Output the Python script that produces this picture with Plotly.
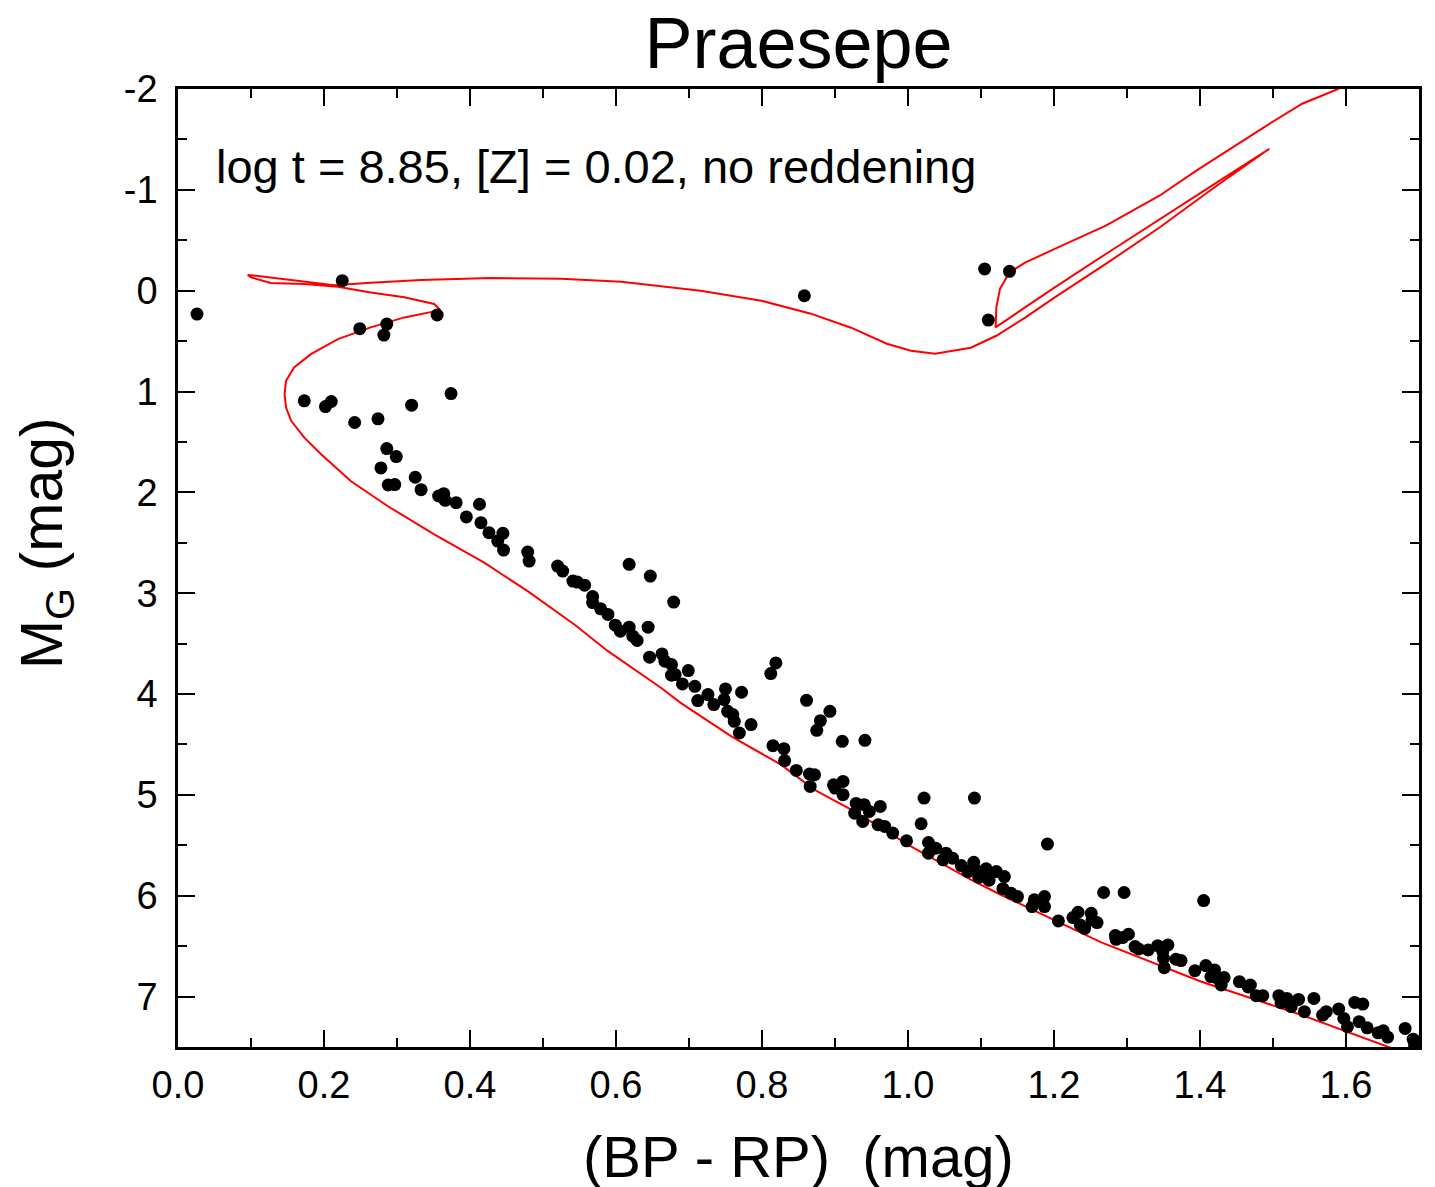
import plotly.graph_objects as go

# ---- Cluster members (Gaia colour / absolute magnitude) ----
bp_rp = [
    0.026, 0.225, 0.355, 0.249, 0.286, 0.282, 0.858, 1.105, 1.139, 1.110,
    0.173, 0.202, 0.210, 0.242, 0.274, 0.320, 0.374, 0.286, 0.299, 0.278,
    0.288, 0.297, 0.325, 0.333, 0.357, 0.364, 0.366, 0.381, 0.413, 0.395,
    0.415, 0.426, 0.445, 0.438, 0.446, 0.479, 0.481, 0.520, 0.527, 0.541,
    0.547, 0.557, 0.568, 0.568, 0.579, 0.589, 0.599, 0.606, 0.618, 0.623,
    0.629, 0.644, 0.618, 0.647, 0.679, 0.646, 0.663, 0.667, 0.676, 0.676,
    0.681, 0.699, 0.691, 0.708, 0.712, 0.726, 0.734, 0.750, 0.748, 0.753,
    0.760, 0.772, 0.762, 0.769, 0.785, 0.819, 0.812, 0.861, 0.815, 0.830,
    0.893, 0.880, 0.875, 0.910, 0.941, 0.831, 0.847, 0.865, 0.872, 0.866,
    0.898, 0.911, 0.911, 0.900, 0.929, 0.940, 0.947, 0.927, 0.938, 0.962,
    0.959, 0.968, 0.979, 0.998, 1.022, 1.018, 1.091, 1.028, 1.028, 1.038,
    1.052, 1.048, 1.061, 1.073, 1.090, 1.082, 1.096, 1.107, 1.121, 1.132,
    1.097, 1.111, 1.130, 1.141, 1.150, 1.173, 1.187, 1.191, 1.268, 1.296,
    1.405, 1.187, 1.170, 1.206, 1.226, 1.233, 1.236, 1.242, 1.251, 1.252,
    1.259, 1.284, 1.285, 1.302, 1.294, 1.311, 1.316, 1.329, 1.342, 1.356,
    1.349, 1.350, 1.351, 1.367, 1.374, 1.393, 1.408, 1.420, 1.415, 1.424,
    1.433, 1.429, 1.454, 1.466, 1.469, 1.477, 1.486, 1.508, 1.511, 1.519,
    1.525, 1.535, 1.543, 1.556, 1.568, 1.573, 1.590, 1.597, 1.602, 1.612,
    1.623, 1.618, 1.629, 1.644, 1.651, 1.657, 1.681, 1.692, 1.694,
]
m_g = [
    0.232, -0.099, 0.241, 0.377, 0.331, 0.440, 0.050, -0.215, -0.192, 0.291,
    1.092, 1.149, 1.099, 1.307, 1.271, 1.135, 1.020, 1.566, 1.645, 1.758,
    1.927, 1.923, 1.850, 1.973, 2.036, 2.013, 2.079, 2.102, 2.118, 2.244,
    2.301, 2.400, 2.406, 2.483, 2.572, 2.592, 2.681, 2.731, 2.780, 2.880,
    2.890, 2.920, 3.033, 3.093, 3.155, 3.210, 3.317, 3.376, 3.337, 3.426,
    3.469, 3.337, 2.714, 2.830, 3.088, 3.634, 3.602, 3.674, 3.707, 3.813,
    3.807, 3.767, 3.900, 3.923, 4.065, 4.005, 4.104, 3.949, 4.055, 4.171,
    4.204, 3.982, 4.270, 4.386, 4.303, 3.691, 3.797, 4.062, 4.512, 4.542,
    4.171, 4.264, 4.360, 4.469, 4.459, 4.660, 4.757, 4.793, 4.800, 4.916,
    4.900, 4.866, 4.998, 4.932, 5.085, 5.097, 5.164, 5.181, 5.263, 5.114,
    5.296, 5.313, 5.379, 5.455, 5.032, 5.286, 5.032, 5.472, 5.578, 5.528,
    5.578, 5.644, 5.628, 5.701, 5.668, 5.760, 5.760, 5.733, 5.760, 5.810,
    5.817, 5.846, 5.930, 5.975, 6.008, 6.041, 6.008, 5.488, 5.968, 5.968,
    6.048, 6.107, 6.107, 6.250, 6.217, 6.164, 6.290, 6.323, 6.174, 6.240,
    6.266, 6.395, 6.432, 6.382, 6.415, 6.504, 6.528, 6.538, 6.495, 6.488,
    6.554, 6.620, 6.713, 6.630, 6.643, 6.743, 6.693, 6.736, 6.802, 6.819,
    6.812, 6.885, 6.852, 6.904, 6.885, 6.991, 6.991, 6.991, 7.060, 7.018,
    7.100, 7.028, 7.150, 7.018, 7.183, 7.150, 7.124, 7.217, 7.299, 7.058,
    7.074, 7.249, 7.310, 7.359, 7.340, 7.402, 7.316, 7.422, 7.482,
]

# ---- Isochrone (log t = 8.85, Z = 0.02) ----
iso_x = [
    1.700, 1.662, 1.538, 1.401, 1.264, 1.127, 1.086, 1.004, 0.926, 0.872,
    0.826, 0.758, 0.689, 0.662, 0.589, 0.543, 0.479, 0.420, 0.351, 0.287,
    0.237, 0.196, 0.173, 0.155, 0.148, 0.146, 0.148, 0.159, 0.182, 0.219,
    0.264, 0.310, 0.351, 0.358, 0.351, 0.310, 0.264, 0.219, 0.173, 0.127,
    0.100, 0.0955, 0.118, 0.164, 0.214, 0.264, 0.333, 0.429, 0.525, 0.607,
    0.716, 0.799, 0.867, 0.922, 0.971, 1.004, 1.037, 1.086, 1.121, 1.161,
    1.201, 1.271, 1.345, 1.420, 1.495, 1.420, 1.345, 1.271, 1.201, 1.161,
    1.131, 1.120, 1.121, 1.126, 1.139, 1.161, 1.201, 1.271, 1.345, 1.395,
    1.495, 1.540, 1.589, 1.650,
]
iso_y = [
    7.62, 7.51, 7.18, 6.85, 6.46, 5.99, 5.84, 5.51, 5.16, 4.95,
    4.70, 4.42, 4.09, 3.94, 3.575, 3.31, 2.98, 2.70, 2.416, 2.135,
    1.89, 1.622, 1.457, 1.291, 1.159, 1.026, 0.894, 0.761, 0.629, 0.48,
    0.364, 0.265, 0.205, 0.182, 0.132, 0.066, 0.017, -0.040, -0.066, -0.076,
    -0.132, -0.156, -0.139, -0.099, -0.053, -0.079, -0.106, -0.126, -0.119, -0.089,
    0.000, 0.099, 0.228, 0.367, 0.526, 0.596, 0.626, 0.566, 0.447, 0.265,
    0.066, -0.265, -0.629, -1.026, -1.407, -1.060, -0.712, -0.364, -0.033, 0.166,
    0.315, 0.364, 0.166, -0.017, -0.182, -0.281, -0.414, -0.646, -0.944, -1.19,
    -1.655, -1.854, -2.00, -2.25,
]

x_tickvals = [0.0, 0.2, 0.4, 0.6, 0.8, 1.0, 1.2, 1.4, 1.6]
x_ticktext = ["0.0", "0.2", "0.4", "0.6", "0.8", "1.0", "1.2", "1.4", "1.6"]
y_tickvals = [-2, -1, 0, 1, 2, 3, 4, 5, 6, 7]
y_ticktext = ["-2", "-1", "0", "1", "2", "3", "4", "5", "6", "7"]

FONT = "Arial, Liberation Sans, Arimo, sans-serif"

fig = go.Figure()
fig.add_trace(go.Scatter(
    x=iso_x, y=iso_y, mode="lines",
    line=dict(color="#ff0000", width=2),
    hoverinfo="skip", showlegend=False,
))
fig.add_trace(go.Scatter(
    x=bp_rp, y=m_g, mode="markers",
    marker=dict(color="black", size=13, line=dict(width=0)),
    showlegend=False,
))

axis_common = dict(
    showline=True, linecolor="black", linewidth=2.5, mirror="allticks",
    ticks="inside", ticklen=17, tickwidth=2, tickcolor="black",
    showgrid=False, zeroline=False,
    tickfont=dict(family=FONT, size=38, color="black"),
)

fig.update_xaxes(
    range=[0, 1.7], tickvals=x_tickvals, ticktext=x_ticktext,
    minor=dict(dtick=0.1, ticks="inside", ticklen=9, tickwidth=2, tickcolor="black", showgrid=False),
    ticklabelstandoff=3,
    **axis_common,
)
fig.update_yaxes(
    range=[7.5, -2], tickvals=y_tickvals, ticktext=y_ticktext,
    minor=dict(dtick=0.5, ticks="inside", ticklen=9, tickwidth=2, tickcolor="black", showgrid=False),
    ticklabelstandoff=10,
    **axis_common,
)

fig.update_layout(
    width=1435, height=1187,
    margin=dict(l=170, r=24, t=81, b=148),
    paper_bgcolor="white", plot_bgcolor="white",
    title=dict(text="Praesepe", font=dict(family=FONT, size=72, color="black"),
               x=0.5, xref="paper", y=0.971, yref="container", yanchor="middle"),
    annotations=[
        dict(
            text="log t = 8.85, [Z] = 0.02, no reddening",
            x=0.029, y=0.9196, xref="paper", yref="paper",
            xanchor="left", yanchor="middle", showarrow=False,
            font=dict(family=FONT, size=47, color="black"),
        ),
        dict(
            text="(BP - RP)\u00a0\u00a0(mag)",
            x=0.5, y=-0.1138, xref="paper", yref="paper",
            xanchor="center", yanchor="middle", showarrow=False,
            font=dict(family=FONT, size=58, color="black"),
        ),
        dict(
            text="M<sub>G</sub> (mag)",
            x=-0.1064, y=0.526, xref="paper", yref="paper",
            xanchor="center", yanchor="middle", showarrow=False, textangle=-90,
            font=dict(family=FONT, size=59, color="black"),
        ),
    ],
)

fig.write_html("out.html")
